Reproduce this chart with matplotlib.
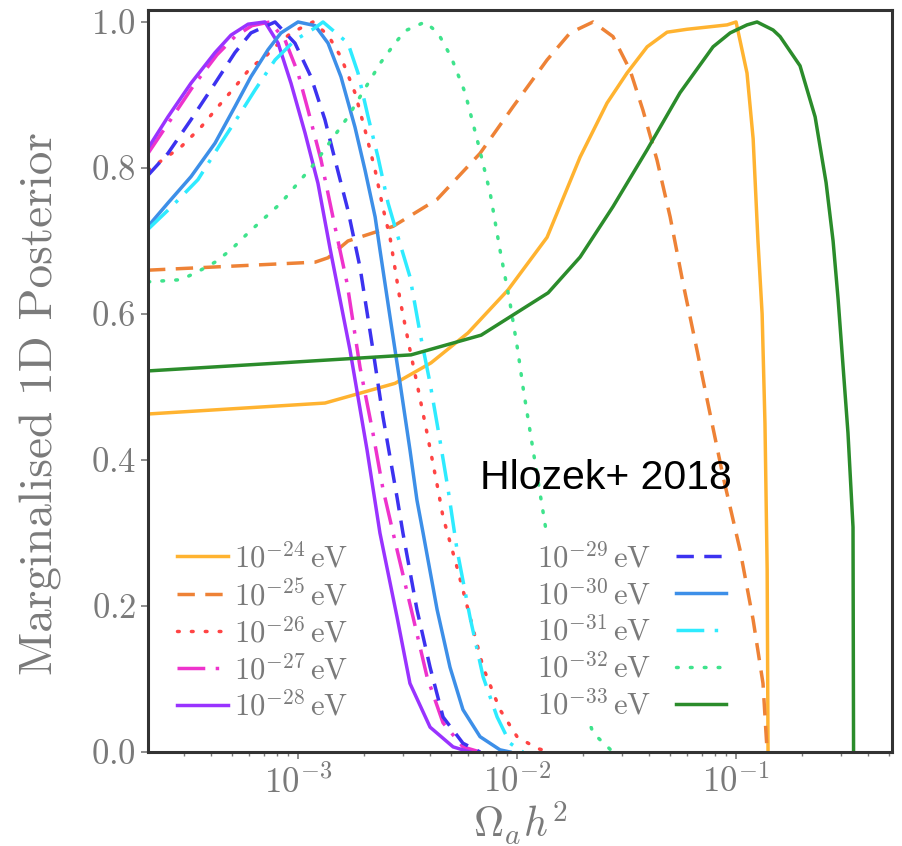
import numpy as np
import matplotlib
matplotlib.use("Agg")
import matplotlib.pyplot as plt

plt.rcParams['font.family'] = 'serif'
plt.rcParams['font.serif'] = ['cmr10', 'DejaVu Serif']
plt.rcParams['mathtext.fontset'] = 'cm'
plt.rcParams['axes.formatter.use_mathtext'] = True
plt.rcParams['axes.unicode_minus'] = False

# ---- data: log10(Omega_a h^2) and marginalised posterior ----
labels = [r'$10^{-24}\,\mathrm{eV}$', r'$10^{-25}\,\mathrm{eV}$', r'$10^{-26}\,\mathrm{eV}$',
          r'$10^{-27}\,\mathrm{eV}$', r'$10^{-28}\,\mathrm{eV}$', r'$10^{-29}\,\mathrm{eV}$',
          r'$10^{-30}\,\mathrm{eV}$', r'$10^{-31}\,\mathrm{eV}$', r'$10^{-32}\,\mathrm{eV}$',
          r'$10^{-33}\,\mathrm{eV}$']

lx_24 = [-3.685, -2.877, -2.557, -2.393, -2.224, -2.041, -1.863, -1.712, -1.589, -1.498, -1.406,
         -1.315, -1.224, -1.132, -1.041, -1.000, -0.950, -0.922, -0.900, -0.881, -0.868, -0.858, -0.854]
p_24 = [0.463, 0.478, 0.505, 0.533, 0.574, 0.633, 0.705, 0.815, 0.889, 0.930, 0.966,
        0.986, 0.990, 0.993, 0.996, 1.000, 0.930, 0.840, 0.700, 0.600, 0.450, 0.250, 0.0]

lx_25 = [-3.685, -2.922, -2.863, -2.772, -2.566, -2.365, -2.169, -2.018, -1.863, -1.758, -1.653,
         -1.562, -1.484, -1.425, -1.361, -1.301, -1.242, -1.178, -1.151, -1.059, -0.982, -0.922,
         -0.877, -0.858]
p_25 = [0.660, 0.671, 0.677, 0.700, 0.720, 0.757, 0.820, 0.884, 0.948, 0.985, 1.000,
        0.980, 0.934, 0.879, 0.811, 0.733, 0.642, 0.550, 0.510, 0.377, 0.277, 0.181, 0.094, 0.0]

lx_26 = [-3.685, -3.534, -3.443, -3.365, -3.288, -3.215, -3.151, -3.105, -3.032, -2.932, -2.863,
         -2.804, -2.740, -2.694, -2.648, -2.612, -2.580, -2.534, -2.489, -2.457, -2.411, -2.361,
         -2.338, -2.274, -2.215, -2.155, -2.078, -2.000, -1.909, -1.849]
p_26 = [0.797, 0.829, 0.856, 0.884, 0.911, 0.938, 0.952, 0.966, 0.985, 1.000, 0.982,
        0.952, 0.903, 0.852, 0.797, 0.745, 0.705, 0.619, 0.551, 0.505, 0.437, 0.360,
        0.322, 0.253, 0.185, 0.116, 0.058, 0.021, 0.005, 0.0]

lx_27 = [-3.685, -3.584, -3.479, -3.370, -3.288, -3.210, -3.128, -3.059, -3.000, -2.954, -2.895,
         -2.831, -2.776, -2.717, -2.658, -2.612, -2.548, -2.475, -2.411, -2.338, -2.247, -2.169]
p_27 = [0.820, 0.865, 0.912, 0.955, 0.980, 0.995, 1.000, 0.975, 0.930, 0.879, 0.811,
        0.719, 0.642, 0.527, 0.437, 0.360, 0.277, 0.185, 0.103, 0.040, 0.007, 0.0]

lx_28 = [-3.685, -3.594, -3.489, -3.379, -3.306, -3.228, -3.151, -3.091, -3.032, -2.968, -2.909,
         -2.854, -2.763, -2.685, -2.626, -2.548, -2.489, -2.397, -2.292, -2.215]
p_28 = [0.827, 0.870, 0.916, 0.958, 0.982, 0.997, 1.000, 0.971, 0.916, 0.848, 0.779,
        0.690, 0.551, 0.414, 0.300, 0.185, 0.094, 0.034, 0.007, 0.0]

lx_29 = [-3.685, -3.594, -3.489, -3.379, -3.288, -3.215, -3.105, -3.014, -2.941, -2.877, -2.831,
         -2.772, -2.717, -2.658, -2.612, -2.548, -2.521, -2.457, -2.397, -2.338, -2.247, -2.169]
p_29 = [0.790, 0.820, 0.866, 0.916, 0.958, 0.985, 1.000, 0.971, 0.925, 0.866, 0.811,
        0.742, 0.664, 0.551, 0.459, 0.349, 0.300, 0.195, 0.116, 0.048, 0.012, 0.0]

lx_30 = [-3.685, -3.594, -3.489, -3.379, -3.288, -3.215, -3.137, -3.078, -3.000, -2.922, -2.863,
         -2.804, -2.740, -2.694, -2.648, -2.626, -2.580, -2.534, -2.489, -2.457, -2.429, -2.365,
         -2.306, -2.247, -2.169, -2.078, -2.032]
p_30 = [0.720, 0.752, 0.788, 0.834, 0.884, 0.925, 0.962, 0.985, 1.000, 0.995, 0.971,
        0.925, 0.856, 0.797, 0.733, 0.688, 0.596, 0.505, 0.414, 0.345, 0.300, 0.195,
        0.116, 0.058, 0.021, 0.003, 0.0]

lx_31 = [-3.685, -3.584, -3.457, -3.352, -3.274, -3.196, -3.105, -3.014, -2.922, -2.886, -2.772,
         -2.726, -2.680, -2.635, -2.589, -2.548, -2.489, -2.443, -2.397, -2.352, -2.315, -2.274,
         -2.215, -2.155, -2.091, -2.032, -1.973]
p_31 = [0.716, 0.745, 0.784, 0.834, 0.870, 0.907, 0.948, 0.975, 0.992, 1.000, 0.971,
        0.930, 0.870, 0.815, 0.752, 0.710, 0.651, 0.574, 0.505, 0.427, 0.360, 0.277,
        0.185, 0.103, 0.048, 0.012, 0.0]

lx_32 = [-3.685, -3.534, -3.457, -3.379, -3.306, -3.228, -3.078, -2.922, -2.772, -2.680, -2.621,
         -2.557, -2.510, -2.420, -2.361, -2.301, -2.237, -2.178, -2.123, -2.078, -2.032, -1.995,
         -1.973, -1.927, -1.863, -1.804, -1.735, -1.653, -1.562]
p_32 = [0.644, 0.647, 0.658, 0.671, 0.688, 0.711, 0.752, 0.807, 0.870, 0.916, 0.945,
        0.971, 0.988, 1.000, 0.985, 0.952, 0.903, 0.834, 0.766, 0.688, 0.615, 0.547,
        0.500, 0.414, 0.295, 0.200, 0.100, 0.026, 0.0]

lx_33 = [-3.685, -3.078, -2.484, -2.164, -1.858, -1.712, -1.562, -1.406, -1.256, -1.105, -1.027,
         -0.950, -0.904, -0.831, -0.799, -0.708, -0.639, -0.589, -0.557, -0.534, -0.489, -0.466,
         -0.4635]
p_33 = [0.522, 0.533, 0.544, 0.571, 0.629, 0.678, 0.747, 0.825, 0.903, 0.966, 0.985,
        0.996, 1.000, 0.989, 0.980, 0.940, 0.870, 0.780, 0.700, 0.620, 0.437, 0.308, 0.0]

series_x = [lx_24, lx_25, lx_26, lx_27, lx_28, lx_29, lx_30, lx_31, lx_32, lx_33]
series_y = [p_24, p_25, p_26, p_27, p_28, p_29, p_30, p_31, p_32, p_33]

colors = ['#FFB330', '#EE8236', '#FF4444', '#EE33CC', '#9933FF',
          '#3C32F0', '#3D8FE8', '#2EEBFF', '#3FE38C', '#2B8C2B']
DASH = (5, 3)
DOT = (0.5, 3.5)
DASHDOT = (8, 3, 1, 3)
dashes = [None, DASH, DOT, DASHDOT, None, DASH, None, DASHDOT, DOT, None]

fig = plt.figure(figsize=(9.02, 8.46), dpi=100)
ax = fig.add_axes([148 / 902, 1 - 752 / 846, 744 / 902, 742 / 846])

lines = []
for lx, p, c, d, lab in zip(series_x, series_y, colors, dashes, labels):
    ln, = ax.plot(10 ** np.array(lx), p, color=c, lw=2.5, label=lab,
                  solid_joinstyle='round')
    if d is not None:
        ln.set_dashes(d)
        if d == DOT:
            ln.set_dash_capstyle('round')
    lines.append(ln)

ax.set_xscale('log')
ax.set_xlim(10 ** -3.685, 10 ** -0.288)
ax.set_ylim(0, 1.0164)
ax.set_yticks([0.0, 0.2, 0.4, 0.6, 0.8, 1.0])

gray = '#7a7a7a'
ax.tick_params(axis='both', which='major', labelsize=25, colors=gray, labelcolor=gray,
               length=5, width=1.2)
ax.tick_params(axis='x', which='major', pad=4)
ax.tick_params(axis='x', which='minor', length=3, width=1, colors=gray)
for sp in ax.spines.values():
    sp.set_color('#333333')
    sp.set_linewidth(2.2)

ax.set_ylabel('Marginalised 1D Posterior', fontsize=34, color=gray)
ax.yaxis.set_label_coords(-0.115, 0.47)
ax.set_xlabel(r'$\Omega_a h^2$', fontsize=30, color=gray, labelpad=0)

leg_kw = dict(fontsize=22, frameon=True, facecolor='white', edgecolor='none', framealpha=1,
              handlelength=1.65, labelspacing=0.19, borderpad=0.2,
              borderaxespad=0.0, labelcolor=gray)
leg1 = ax.legend(handles=lines[:5], loc='upper left', handletextpad=0.2,
                 bbox_to_anchor=((171 - 148) / 744, (752 - 536) / 742), **leg_kw)
ax.add_artist(leg1)
leg2 = ax.legend(handles=lines[5:], loc='upper left', markerfirst=False, handletextpad=0.8,
                 bbox_to_anchor=((531 - 148) / 744, (752 - 536) / 742), **leg_kw)

ax.text((480 - 148) / 744, (752 - 478) / 742, 'Hlozek+ 2018', transform=ax.transAxes,
        fontsize=29.5, family='Liberation Sans', color='black', ha='left', va='center')

fig.savefig('out.png', dpi=100)
